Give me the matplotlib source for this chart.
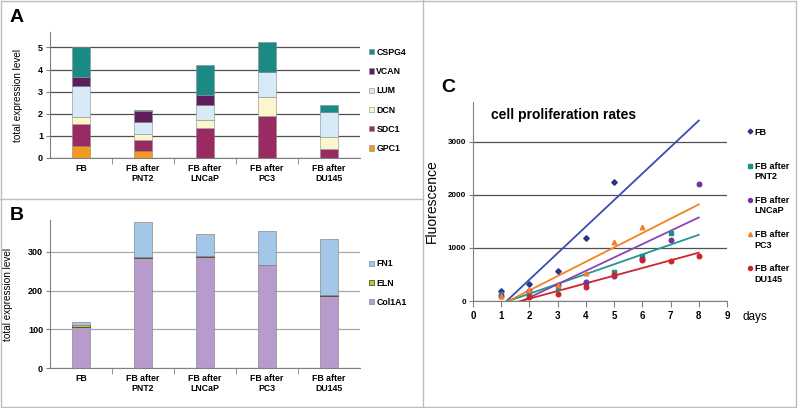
import numpy as np
import matplotlib
matplotlib.use("Agg")
import matplotlib.pyplot as plt
from matplotlib.lines import Line2D
from matplotlib.legend_handler import HandlerLine2D

plt.rcParams['font.family'] = ['Liberation Sans', 'DejaVu Sans']

# --- data -----------------------------------------------------------------
categories = ["FB", "FB after\nPNT2", "FB after\nLNCaP", "FB after\nPC3", "FB after\nDU145"]

# panel A (stacked, bottom to top)
a_genes = ["GPC1", "SDC1", "DCN", "LUM", "VCAN", "CSPG4"]
gpc1 = [0.55, 0.32, 0.0, 0.0, 0.0]
sdc1 = [0.97, 0.48, 1.35, 1.88, 0.40]
dcn = [0.35, 0.27, 0.38, 0.89, 0.55]
lum = [1.40, 0.56, 0.69, 1.10, 1.13]
vcan = [0.41, 0.50, 0.41, 0.0, 0.0]
cspg4 = [1.32, 0.02, 1.37, 1.38, 0.34]
a_colors = ["#f39a1e", "#9a2b62", "#fbf6cc", "#d6ebf5", "#5c1f5c", "#1c8a84"]

# panel B (stacked, bottom to top)
b_genes = ["Col1A1", "ELN", "FN1"]
col1a1 = [105, 285, 286, 265, 186]
eln = [5, 2, 2, 2, 1.5]
fn1 = [8, 91, 59, 86, 146]
b_colors = ["#b79bcc", "#c8c62a", "#a2c7e8"]

# panel C (fluorescence per day)
days_fb = [1, 2, 3, 4, 5]
fl_fb = [182, 326, 570, 1185, 2250]
days_pnt2 = [1, 2, 3, 4, 5, 6, 7]
fl_pnt2 = [130, 150, 245, 340, 545, 850, 1290]
days_lncap = [1, 2, 3, 4, 5, 6, 7, 8]
fl_lncap = [100, 190, 300, 350, 465, 800, 1150, 2200]
days_pc3 = [1, 2, 3, 4, 5, 6]
fl_pc3 = [100, 200, 300, 520, 1110, 1400]
days_du145 = [2, 3, 4, 5, 6, 7, 8]
fl_du145 = [70, 140, 270, 490, 780, 750, 840]

c_labels = ["FB\n ", "FB after\nPNT2", "FB after\nLNCaP", "FB after\nPC3", "FB after\nDU145"]
c_marker_colors = ["#2b3687", "#1f8f86", "#7434a0", "#f07f2e", "#c8262e"]
c_line_colors = ["#3a4db0", "#23978d", "#8a44b8", "#f28322", "#d0242f"]
c_markers = ["D", "s", "o", "^", "o"]


class FirstLineHandler(HandlerLine2D):
    # put the legend marker next to the first line of a two-line label
    def create_artists(self, legend, orig_handle, xdescent, ydescent, width,
                       height, fontsize, trans):
        arts = super().create_artists(legend, orig_handle, xdescent, ydescent,
                                      width, height, fontsize, trans)
        for a in arts:
            a.set_ydata(np.asarray(a.get_ydata()) + 0.68 * fontsize)
        return arts


# --- figure ---------------------------------------------------------------
W, H = 798, 408
fig = plt.figure(figsize=(W / 100, H / 100), dpi=100)

def px_axes(l, t, r, b):
    return fig.add_axes([l / W, 1 - b / H, (r - l) / W, (b - t) / H])

x = np.arange(len(categories))
tick_font = dict(fontsize=6.3, fontweight='bold')


def style_bar_axes(ax, ytop, grid_color):
    ax.set_xlim(-0.5, 4.5)
    ax.set_ylim(0, ytop)
    for s in ["top", "right"]:
        ax.spines[s].set_visible(False)
    ax.spines["left"].set_color("#808080")
    ax.spines["bottom"].set_color("#808080")
    ax.set_xticks(x)
    ax.set_xticklabels(categories, linespacing=1.15, **tick_font)
    ax.set_xticks(np.arange(0.5, 4.5, 1.0), minor=True)
    ax.tick_params(axis='x', which='major', length=0, pad=4)
    ax.tick_params(axis='x', which='minor', length=4, color="#808080")
    ax.tick_params(axis='y', length=3, color="#808080", pad=2)
    for lab in ax.get_yticklabels():
        lab.set_fontsize(6.5)
        lab.set_fontweight('bold')
    ax.yaxis.grid(True, color=grid_color, lw=0.9)
    ax.set_axisbelow(True)
    ax.set_ylabel("total expression level", fontsize=7.2, labelpad=11)


leg_kw = dict(frameon=False, handlelength=0.55, handleheight=0.55, handletextpad=0.25,
              labelspacing=1.17, prop=dict(size=6.3, weight='bold'))

# panel A
axA = px_axes(50, 32, 360, 158)
bottom = np.zeros(len(categories))
a_series = [gpc1, sdc1, dcn, lum, vcan, cspg4]
for name, vals, col in zip(a_genes, a_series, a_colors):
    axA.bar(x, vals, width=0.29, bottom=bottom, color=col, edgecolor="#8a8a8a",
            linewidth=0.4, label=name)
    bottom += np.array(vals)
axA.set_yticks([0, 1, 2, 3, 4, 5])
style_bar_axes(axA, 5.7, "#505050")
h, l = axA.get_legend_handles_labels()
axA.legend(h[::-1], l[::-1], loc='center left', bbox_to_anchor=(1.005, 0.456), **leg_kw)

# panel B
axB = px_axes(50, 220, 360, 368)
bottom = np.zeros(len(categories))
b_series = [col1a1, eln, fn1]
b_edges = ["#8a8a8a", "#303030", "#8a8a8a"]
for name, vals, col, ec in zip(b_genes, b_series, b_colors, b_edges):
    axB.bar(x, vals, width=0.29, bottom=bottom, color=col, edgecolor=ec,
            linewidth=0.5, label=name)
    bottom += np.array(vals)
axB.set_yticks([0, 100, 200, 300])
style_bar_axes(axB, 382, "#a8a8a8")
h, l = axB.get_legend_handles_labels()
axB.legend(h[::-1], l[::-1], loc='center left', bbox_to_anchor=(1.005, 0.574), **leg_kw)

# panel C
axC = px_axes(473, 102, 727, 301)
c_days = [days_fb, days_pnt2, days_lncap, days_pc3, days_du145]
c_vals = [fl_fb, fl_pnt2, fl_lncap, fl_pc3, fl_du145]
handles = []
for d, v, mc, lc, mk, lab in zip(c_days, c_vals, c_marker_colors, c_line_colors,
                                 c_markers, c_labels):
    ms = 2.8 if mk == "D" else 3.3
    axC.plot(d, v, linestyle='none', marker=mk, ms=ms, color=mc, zorder=3)
    k, b0 = np.polyfit(d, v, 1)
    xs = np.array([1.0, 8.0])
    axC.plot(xs, k * xs + b0, color=lc, lw=1.3, zorder=2)
    handles.append(Line2D([], [], linestyle='none', marker=mk, ms=ms - 0.4, color=mc,
                          label=lab))

axC.set_xlim(0, 9)
axC.set_ylim(0, 3750)
axC.set_xticks(range(10))
axC.set_yticks([0, 1000, 2000, 3000])
for s in ["top", "right"]:
    axC.spines[s].set_visible(False)
axC.spines["left"].set_color("#808080")
axC.spines["bottom"].set_color("#808080")
axC.yaxis.grid(True, color="#505050", lw=0.9)
axC.set_axisbelow(True)
axC.tick_params(axis='x', length=4, color="#808080", pad=3, labelsize=7)
axC.tick_params(axis='y', length=3, color="#808080", pad=2, labelsize=5.8)
for lab in axC.get_xticklabels() + axC.get_yticklabels():
    lab.set_fontweight('bold')
axC.set_ylabel("Fluorescence", fontsize=10, labelpad=6)
axC.text(1.06, -0.08, "days", transform=axC.transAxes, fontsize=8.5, va='center', ha='left')
axC.text(0.071, 0.935, "cell proliferation rates", transform=axC.transAxes,
         fontsize=10, fontweight='bold', va='center', ha='left')
legC = axC.legend(handles=handles, loc='upper left', frameon=False, handlelength=0.5,
                  handletextpad=0.3, labelspacing=1.64, borderpad=0,
                  prop=dict(size=6.5, weight='bold'),
                  handler_map={Line2D: FirstLineHandler()})
legC.set_bbox_to_anchor((743 / W, 1 - 123 / H), transform=fig.transFigure)

# panel letters
fig.text(10 / W, 1 - 17 / H, "A", fontsize=14, fontweight='bold', va='center')
fig.text(10 / W, 1 - 215 / H, "B", fontsize=14, fontweight='bold', va='center')
fig.text(441 / W, 1 - 87 / H, "C", fontsize=14, fontweight='bold', va='center')

# panel frames
frame = dict(color="#bdbdbd", lw=1.0, transform=fig.transFigure)
fig.add_artist(Line2D([0.5 / W, 0.5 / W, 796 / W, 796 / W, 0.5 / W],
                      [1 - 1 / H, 1 - 407 / H, 1 - 407 / H, 1 - 1 / H, 1 - 1 / H], **frame))
fig.add_artist(Line2D([423 / W, 423 / W], [0, 1], **frame))
fig.add_artist(Line2D([0, 423 / W], [1 - 199 / H, 1 - 199 / H], **frame))

fig.savefig("out.png", dpi=100)
